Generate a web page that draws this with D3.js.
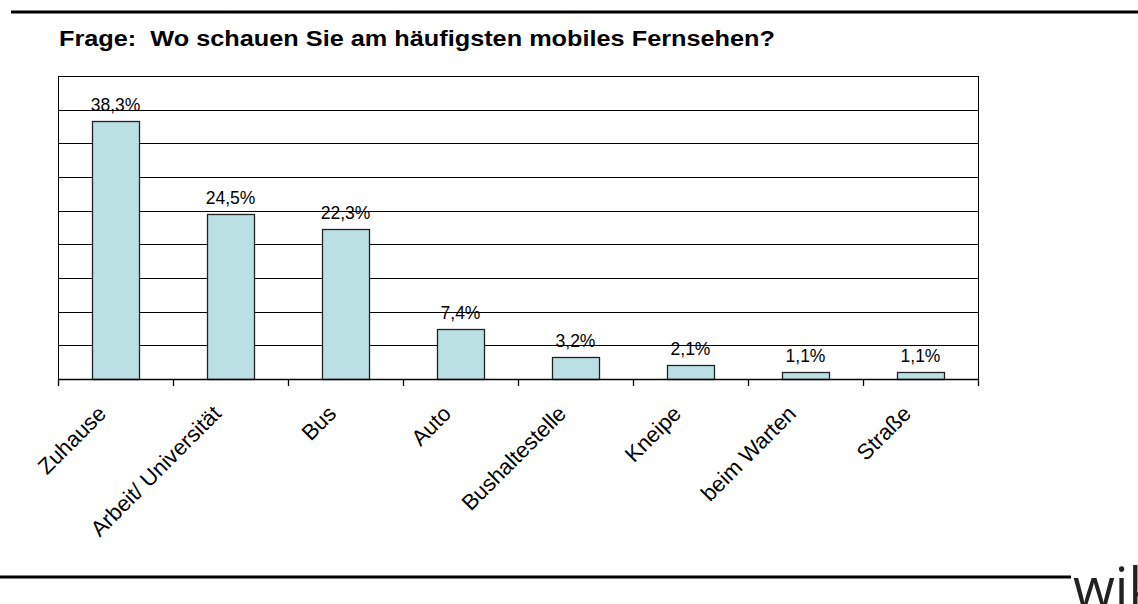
<!DOCTYPE html>
<html>
<head>
<meta charset="utf-8">
<script src="https://cdn.jsdelivr.net/npm/d3@7"></script>
<style>
  body { margin: 0; background: #fff; }
  svg { display: block; }
</style>
</head>
<body>
<div id="chart"></div>
<script>
// data
var categories = ["Zuhause", "Arbeit/ Universität", "Bus", "Auto", "Bushaltestelle", "Kneipe", "beim Warten", "Straße"];
var values = [38.3, 24.5, 22.3, 7.4, 3.2, 2.1, 1.1, 1.1];
var valueLabels = ["38,3%", "24,5%", "22,3%", "7,4%", "3,2%", "2,1%", "1,1%", "1,1%"];
var gridTicks = [5, 10, 15, 20, 25, 30, 35, 40, 45];
var title = "Frage:  Wo schauen Sie am häufigsten mobiles Fernsehen?";

var svgWidth = 1138;
var svgHeight = 604;

var margin = { top: 76, right: 160, bottom: 225, left: 58 };
var width = svgWidth - margin.left - margin.right;
var height = svgHeight - margin.top - margin.bottom;

var svg = d3.select("#chart")
    .append("svg")
    .attr("width", svgWidth)
    .attr("height", svgHeight);

svg.append("rect")
    .attr("width", svgWidth)
    .attr("height", svgHeight)
    .attr("fill", "#fff");

// page rules
svg.append("line")
    .attr("x1", 11).attr("x2", svgWidth)
    .attr("y1", 12).attr("y2", 12)
    .attr("stroke", "#000").attr("stroke-width", 3);

svg.append("line")
    .attr("x1", 0).attr("x2", 1071)
    .attr("y1", 577).attr("y2", 577)
    .attr("stroke", "#000").attr("stroke-width", 3);

// watermark, cut off at the edge like the original
svg.append("text")
    .attr("x", 1073)
    .attr("y", 607)
    .attr("font-family", "Open Sans, sans-serif")
    .attr("font-size", 54)
    .attr("fill", "#222")
    .text("wik");

// title
svg.append("text")
    .attr("x", 59)
    .attr("y", 46)
    .attr("font-family", "Liberation Sans, Arial, sans-serif")
    .attr("font-weight", "bold")
    .attr("font-size", 22)
    .attr("fill", "#000")
    .attr("textLength", 716)
    .attr("lengthAdjust", "spacingAndGlyphs")
    .style("white-space", "pre")
    .text(title);

var chartGroup = svg.append("g")
    .attr("transform", `translate(${margin.left}, ${margin.top})`);

// scales
var xScale = d3.scaleBand()
    .domain(categories)
    .range([0, width]);

var yScale = d3.scaleLinear()
    .domain([0, 45])
    .range([height, 0]);

var barWidth = xScale.bandwidth() * 0.41;

// gridlines
chartGroup.selectAll(".grid")
    .data(gridTicks)
    .enter()
    .append("line")
    .attr("x1", 0)
    .attr("x2", width)
    .attr("y1", d => Math.round(yScale(d)) + 0.5)
    .attr("y2", d => Math.round(yScale(d)) + 0.5)
    .attr("stroke", "#000")
    .attr("stroke-width", 1);

// side borders
chartGroup.append("line")
    .attr("x1", 0.5).attr("x2", 0.5)
    .attr("y1", 0).attr("y2", height)
    .attr("stroke", "#000");
chartGroup.append("line")
    .attr("x1", width + 0.5).attr("x2", width + 0.5)
    .attr("y1", 0).attr("y2", height)
    .attr("stroke", "#000");

// bars
chartGroup.selectAll(".bar")
    .data(values)
    .enter()
    .append("rect")
    .attr("x", (d, i) => Math.round(xScale(categories[i]) + (xScale.bandwidth() - barWidth) / 2) + 0.5)
    .attr("y", d => Math.round(yScale(d)) + 0.5)
    .attr("width", Math.round(barWidth))
    .attr("height", d => Math.round(height - yScale(d)))
    .attr("fill", "#BBE0E3")
    .attr("stroke", "#222")
    .attr("stroke-width", 1.3);

// value labels
chartGroup.selectAll(".valueText")
    .data(values)
    .enter()
    .append("text")
    .attr("x", (d, i) => xScale(categories[i]) + xScale.bandwidth() / 2)
    .attr("y", d => yScale(d) - 10)
    .attr("text-anchor", "middle")
    .attr("font-family", "Liberation Sans, Arial, sans-serif")
    .attr("font-size", 17.5)
    .attr("fill", "#000")
    .text((d, i) => valueLabels[i]);

// x axis
var bottomAxis = d3.axisBottom(xScale).tickSize(0).tickFormat("");
chartGroup.append("g")
    .attr("transform", `translate(0, ${height})`)
    .call(bottomAxis)
    .call(g => g.select(".domain").attr("stroke", "#000").attr("stroke-width", 1.5));

// category tick marks on band edges
var edges = categories.map(c => xScale(c)).concat([width]);
chartGroup.selectAll(".edgeTick")
    .data(edges)
    .enter()
    .append("line")
    .attr("x1", d => Math.round(d) + 0.5)
    .attr("x2", d => Math.round(d) + 0.5)
    .attr("y1", height)
    .attr("y2", height + 7)
    .attr("stroke", "#000")
    .attr("stroke-width", 1.3);

// category labels
chartGroup.selectAll(".catText")
    .data(categories)
    .enter()
    .append("text")
    .attr("transform", d => `translate(${xScale(d) + xScale.bandwidth() / 2 - 8}, ${height + 36}) rotate(-45)`)
    .attr("text-anchor", "end")
    .attr("font-family", "Liberation Sans, Arial, sans-serif")
    .attr("font-size", 22)
    .attr("fill", "#000")
    .text(d => d);
</script>
</body>
</html>
